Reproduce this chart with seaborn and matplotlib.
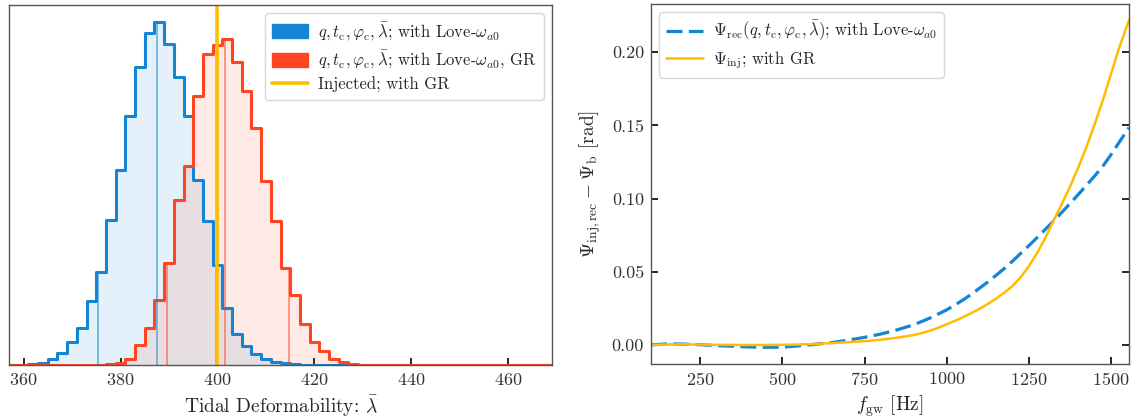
import numpy as np
import pandas as pd
import seaborn as sns
import matplotlib.pyplot as plt
from matplotlib.patches import Patch
from matplotlib.lines import Line2D

# ---- left panel: posterior histograms of lambda-bar (bin width 2) ----
blue_centers = np.arange(362, 418, 2)
blue_counts = [4, 7, 19, 35, 70, 110, 192, 279, 435, 585, 750, 895, 999, 1031,
               964, 865, 750, 557, 434, 302, 170, 94, 57, 32, 17, 9, 5, 2]
red_centers = np.arange(378, 430, 2)
red_counts = [3, 7, 17, 60, 112, 194, 307, 497, 597, 810, 935, 962, 979, 910,
              824, 714, 552, 432, 292, 210, 122, 70, 42, 19, 9, 4]
blue_quant = [375.4, 387.6, 399.7]
red_quant = [389.6, 401.5, 414.7]
lam_injected = 400

# ---- right panel: phase difference vs frequency ----
f_rec = [100, 150, 200, 250, 300, 350, 400, 450, 500, 550, 600, 650, 700, 750,
         800, 850, 900, 950, 1000, 1025, 1050, 1075, 1100, 1125, 1150, 1175,
         1200, 1225, 1250, 1275, 1300, 1325, 1350, 1375, 1400, 1425, 1450,
         1475, 1500, 1525, 1555]
psi_rec = [0.0000, 0.0008, 0.0006, 0.0002, -0.0004, -0.0009, -0.0014, -0.0016,
           -0.0015, -0.0006, 0.0005, 0.0016, 0.0033, 0.0052, 0.0075, 0.0104,
           0.0138, 0.0185, 0.0240, 0.0273, 0.0308, 0.0346, 0.0388, 0.0430,
           0.0475, 0.0522, 0.0572, 0.0625, 0.0678, 0.0733, 0.0789, 0.0846,
           0.0905, 0.0965, 0.1027, 0.1090, 0.1154, 0.1220, 0.1300, 0.1385,
           0.1485]
f_inj = [100, 150, 200, 250, 300, 350, 400, 450, 500, 550, 600, 650, 700, 750,
         800, 850, 900, 925, 950, 975, 1000, 1025, 1050, 1075, 1100, 1125, 1150,
         1175, 1200, 1225, 1250, 1275, 1300, 1325, 1350, 1375, 1400, 1425, 1450,
         1475, 1500, 1525, 1555]
psi_inj = [0.0000, 0.0004, 0.0005, 0.0003, 0.0001, 0.0000, 0.0000, 0.0000,
           0.0001, 0.0003, 0.0007, 0.0013, 0.0019, 0.0026, 0.0036, 0.0050,
           0.0068, 0.0082, 0.0098, 0.0118, 0.0141, 0.0165, 0.0190, 0.0218,
           0.0247, 0.0280, 0.0316, 0.0357, 0.0402, 0.0462, 0.0537, 0.0627,
           0.0730, 0.0848, 0.0960, 0.1080, 0.1210, 0.1350, 0.1505, 0.1670,
           0.1850, 0.2030, 0.2220]

c_blue = '#1485d4'
c_red = '#ff4422'
c_yel = '#ffbc00'

sns.set_style('ticks')
plt.rcParams['font.family'] = ['cmr10', 'DejaVu Serif']
plt.rcParams['mathtext.fontset'] = 'cm'
plt.rcParams['axes.unicode_minus'] = False
plt.rcParams['axes.formatter.use_mathtext'] = True

fig = plt.figure(figsize=(11.44, 4.19), dpi=100)
ax1 = fig.add_axes([9 / 1144, 54 / 419, 543 / 1144, 360 / 419])
ax2 = fig.add_axes([651 / 1144, 55 / 419, 478 / 1144, 360 / 419])

df_b = pd.DataFrame({'lam': blue_centers, 'w': blue_counts})
df_r = pd.DataFrame({'lam': red_centers, 'w': red_counts})
for df, col in [(df_b, c_blue), (df_r, c_red)]:
    sns.histplot(data=df, x='lam', weights='w', binwidth=2, binrange=(351, 475),
                 element='step', fill=True, alpha=0.11, linewidth=0,
                 color=col, ax=ax1)
for df, col in [(df_b, c_blue), (df_r, c_red)]:
    sns.histplot(data=df, x='lam', weights='w', binwidth=2, binrange=(351, 475),
                 element='step', fill=False, linewidth=2.2, color=col, ax=ax1)

# quantile markers, drawn up to the histogram outline
for cent, cnt, qs, col in [(blue_centers, blue_counts, blue_quant, c_blue),
                           (red_centers, red_counts, red_quant, c_red)]:
    for q in qs:
        i = int(np.argmin(np.abs(np.asarray(cent) - q)))
        if q < cent[i] - 1:
            i -= 1
        ax1.vlines(q, 0, cnt[i], color=col, lw=1.2, alpha=0.6)

ax1.axvline(lam_injected, color=c_yel, lw=2.6)
ax1.set_xlim(357, 469)
ax1.set_ylim(0, max(blue_counts) * 1.05)
ax1.set_yticks([])
ax1.set_ylabel('')
ax1.set_xticks([360, 380, 400, 420, 440, 460])
ax1.set_xlabel(r'Tidal Deformability: $\bar{\lambda}$', fontsize=14, labelpad=4)

handles = [Patch(color=c_blue), Patch(color=c_red), Line2D([], [], color=c_yel, lw=2.6)]
labels = [r'$q, t_{\rm c}, \varphi_{\rm c}, \bar{\lambda}$; with Love-$\omega_{a0}$',
          r'$q, t_{\rm c}, \varphi_{\rm c}, \bar{\lambda}$; with Love-$\omega_{a0}$, GR',
          'Injected; with GR']
ax1.legend(handles, labels, loc='upper right', fontsize=12, frameon=True,
           fancybox=True, edgecolor='#cccccc', handlelength=2.2,
           handleheight=0.9, borderpad=0.4, labelspacing=0.35,
           handletextpad=0.6)

# right panel
df_rec = pd.DataFrame({'f': f_rec, 'psi': psi_rec})
df_inj = pd.DataFrame({'f': f_inj, 'psi': psi_inj})
sns.lineplot(data=df_rec, x='f', y='psi', color=c_blue, lw=2.3, ax=ax2,
             label=r'$\Psi_{\rm rec}(q, t_{\rm c}, \varphi_{\rm c}, \bar{\lambda})$; with Love-$\omega_{a0}$')
ax2.lines[-1].set_dashes([5, 2])
sns.lineplot(data=df_inj, x='f', y='psi', color=c_yel, lw=1.8, ax=ax2,
             label=r'$\Psi_{\rm inj}$; with GR')
ax2.set_xlim(100, 1555)
ax2.set_ylim(-0.013, 0.233)
ax2.set_xticks([250, 500, 750, 1000, 1250, 1500])
ax2.set_yticks([0.0, 0.05, 0.10, 0.15, 0.20])
ax2.set_yticklabels(['0.00', '0.05', '0.10', '0.15', '0.20'])
ax2.set_xlabel(r'$f_{\rm gw}$ [Hz]', fontsize=14, labelpad=4)
ax2.set_ylabel(r'$\Psi_{\rm inj,rec} - \Psi_{\rm b}$ [rad]', fontsize=14, labelpad=6)
leg = ax2.legend(loc='upper left', fontsize=12, frameon=True, fancybox=True,
                 edgecolor='#cccccc', handlelength=2.2, borderpad=0.4,
                 labelspacing=0.35, handletextpad=0.6)
leg.get_lines()[0].set_dashes([5, 2])

for ax in (ax1, ax2):
    for s in ax.spines.values():
        s.set_visible(True)
        s.set_color('#555555')
        s.set_linewidth(1.0)
    ax.tick_params(axis='both', direction='in', length=5, width=1.2,
                   colors='black', labelsize=13, pad=5)
    for lab in ax.get_xticklabels() + ax.get_yticklabels():
        lab.set_color('#333333')
ax2.tick_params(axis='y', right=True, left=True)

fig.savefig('out.png', dpi=100)
